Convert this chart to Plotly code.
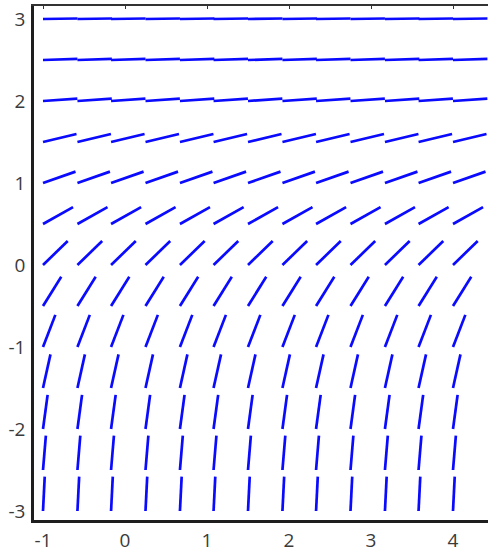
import plotly.graph_objects as go

# Grid of sample points (columns and rows of the slope field)
x_grid = [-1.0, -0.58, -0.17, 0.25, 0.67, 1.08, 1.5, 1.92, 2.33, 2.75, 3.17, 3.58, 4.0]
y_grid = [-3.0, -2.5, -2.0, -1.5, -1.0, -0.5, 0.0, 0.5, 1.0, 1.5, 2.0, 2.5, 3.0]
# Slope (same for every column in a row)
row_slopes = [20.0, 12.0, 7.4, 4.5, 2.6, 1.6, 0.97, 0.56, 0.35, 0.24, 0.07, 0.03, 0.015]

x_tickvals = [-1, 0, 1, 2, 3, 4]
x_ticktext = ["-1", "0", "1", "2", "3", "4"]
y_tickvals = [-3, -2, -1, 0, 1, 2, 3]
y_ticktext = ["-3", "-2", "-1", "0", "1", "2", "3"]

SEG_LEN = 0.42

xs, ys = [], []
for yv, m in zip(y_grid, row_slopes):
    for xv in x_grid:
        dx = SEG_LEN / (1 + m * m) ** 0.5
        xs += [xv, xv + dx, None]
        ys += [yv, yv + m * dx, None]

fig = go.Figure()
fig.add_trace(go.Scatter(x=xs, y=ys, mode="lines",
                         line=dict(color="#0a0aff", width=2.7),
                         hoverinfo="skip", showlegend=False))
# empty trace so the top (mirror) axis is drawn
fig.add_trace(go.Scatter(x=[None], y=[None], xaxis="x2", mode="lines",
                         hoverinfo="skip", showlegend=False))

PX = 82.0
L, R, T, B = 34, 0, 6, 32
W, H = 488, 552
pw, ph = W - L - R, H - T - B
x0 = -1 - (43 - L) / PX
y1 = 3 + (19 - T) / PX

font = dict(family="Open Sans, DejaVu Sans, sans-serif", size=19, color="#3a3a3a")

fig.update_layout(
    width=W, height=H,
    margin=dict(l=L, r=R, t=T, b=B, autoexpand=False),
    paper_bgcolor="white", plot_bgcolor="white",
    xaxis=dict(range=[x0, x0 + pw / PX], tickvals=x_tickvals, ticktext=x_ticktext,
               showgrid=False, zeroline=False, showline=True, linecolor="#1e1e1e",
               linewidth=2.5, ticks="", tickfont=font, ticklabelstandoff=1,
               automargin=False),
    yaxis=dict(range=[y1 - ph / PX, y1], tickvals=y_tickvals, ticktext=y_ticktext,
               showgrid=False, zeroline=False, showline=True, linecolor="#1e1e1e",
               linewidth=2.5, ticks="", tickfont=font, ticklabelstandoff=2,
               automargin=False),
    xaxis2=dict(overlaying="x", matches="x", side="top", showline=True,
                linecolor="#333333", linewidth=2, ticks="inside", ticklen=3,
                tickcolor="#333333", tickvals=x_tickvals, showticklabels=False,
                showgrid=False, zeroline=False, automargin=False),
)

fig.write_html("out.html", config={"displayModeBar": False},
               post_script="document.body.style.margin='0';document.body.style.overflow='hidden';")
